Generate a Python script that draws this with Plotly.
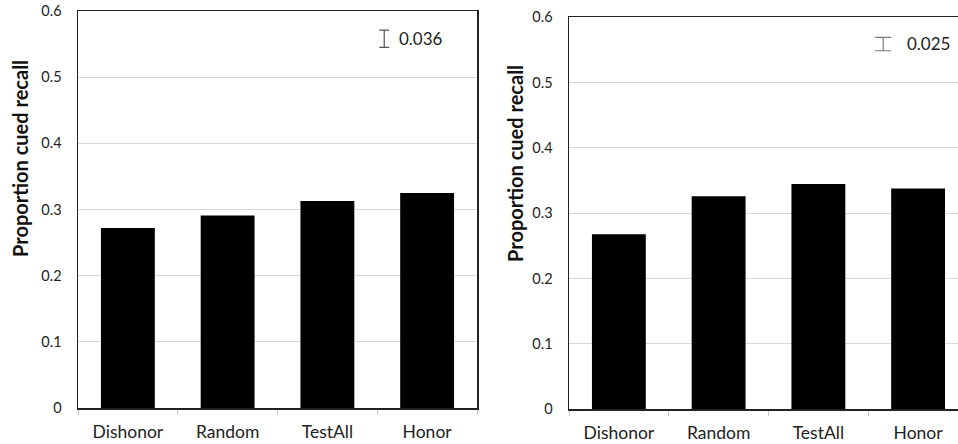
import plotly.graph_objects as go

categories = ["Dishonor", "Random", "TestAll", "Honor"]
left_values = [0.272, 0.291, 0.313, 0.325]
right_values = [0.268, 0.326, 0.345, 0.338]
y_ticks = [0, 0.1, 0.2, 0.3, 0.4, 0.5, 0.6]
y_tick_labels = ["0", "0.1", "0.2", "0.3", "0.4", "0.5", "0.6"]
left_err_label = "0.036"
right_err_label = "0.025"
left_err_center = 0.558
right_err_center = 0.559
left_err_half = 0.013
right_err_half = 0.0102
y_title = "Proportion cued recall"

W, H = 958, 444
FONT = "Lato"

def sx(x):
    return x / W

def sy(y):
    return 1 - y / H

fig = go.Figure()

fig.add_trace(go.Bar(x=categories, y=left_values, marker=dict(color="black", line=dict(width=0)),
                     xaxis="x", yaxis="y", showlegend=False))
fig.add_trace(go.Bar(x=categories, y=right_values, marker=dict(color="black", line=dict(width=0)),
                     xaxis="x2", yaxis="y2", showlegend=False))

# error-bar key glyphs (on overlay linear axes)
fig.add_trace(go.Scatter(x=[2.57], y=[left_err_center], mode="markers",
                         marker=dict(color="rgba(0,0,0,0)", size=1),
                         error_y=dict(type="data", array=[left_err_half], color="#555", thickness=1.2, width=5),
                         xaxis="x3", yaxis="y", showlegend=False, hoverinfo="skip"))
fig.add_trace(go.Scatter(x=[2.65], y=[right_err_center], mode="markers",
                         marker=dict(color="rgba(0,0,0,0)", size=1),
                         error_y=dict(type="data", array=[right_err_half], color="#777", thickness=1.2, width=8),
                         xaxis="x4", yaxis="y2", showlegend=False, hoverinfo="skip"))

common_x = dict(type="category", showline=True, linecolor="#222", linewidth=1.5, mirror=True,
                ticks="outside", tickson="boundaries", ticklen=5, tickcolor="#c8c8c8",
                tickfont=dict(family=FONT, size=17.5, color="#222"), showgrid=False,
                ticklabelstandoff=7, automargin=False, fixedrange=True,
                ticklabeloverflow="allow")
common_y = dict(range=[0, 0.6], tickvals=y_ticks, ticktext=y_tick_labels, showgrid=True,
                gridcolor="#d9d9d9", gridwidth=1, showline=True, linecolor="#222", linewidth=1.5,
                ticks="", tickfont=dict(family=FONT, size=14.5, color="#222"),
                ticklabelstandoff=12, zeroline=False, automargin=False,
                ticklabeloverflow="allow", fixedrange=True)

fig.update_layout(
    width=W, height=H,
    margin=dict(l=0, r=0, t=0, b=0),
    paper_bgcolor="white", plot_bgcolor="white",
    bargap=0.46,
    xaxis=dict(common_x, domain=[sx(78), sx(477)], range=[-0.5, 3.5], anchor="y"),
    yaxis=dict(common_y, domain=[sy(408), sy(11)], anchor="x", mirror=True),
    xaxis2=dict(common_x, domain=[sx(569), sx(958)], range=[-0.5, 3.4], anchor="y2"),
    yaxis2=dict(common_y, domain=[sy(409.3), sy(17.3)], anchor="x2", mirror=False),
    xaxis3=dict(type="linear", range=[-0.5, 3.5], overlaying="x", visible=False, automargin=False),
    xaxis4=dict(type="linear", range=[-0.5, 3.4], overlaying="x2", visible=False, automargin=False),
    annotations=[
        dict(text=y_title, textangle=-90, x=sx(20), y=sy(159), xref="paper", yref="paper",
             xanchor="center", yanchor="middle",
             showarrow=False, font=dict(family=FONT, size=20, color="#111", weight="bold")),
        dict(text=y_title, textangle=-90, x=sx(515), y=sy(164), xref="paper", yref="paper",
             xanchor="center", yanchor="middle",
             showarrow=False, font=dict(family=FONT, size=20, color="#111", weight="bold")),
        dict(text=left_err_label, x=sx(397), y=sy(38.5), xref="paper", yref="paper",
             xanchor="left", yanchor="middle",
             showarrow=False, font=dict(family=FONT, size=17, color="#222")),
        dict(text=right_err_label, x=sx(905), y=sy(44), xref="paper", yref="paper",
             xanchor="left", yanchor="middle",
             showarrow=False, font=dict(family=FONT, size=17, color="#222")),
    ],
)

fig.write_html("out.html",
               config={"displayModeBar": False, "staticPlot": True},
               post_script="document.body.style.margin='0';document.body.style.overflow='hidden';")
